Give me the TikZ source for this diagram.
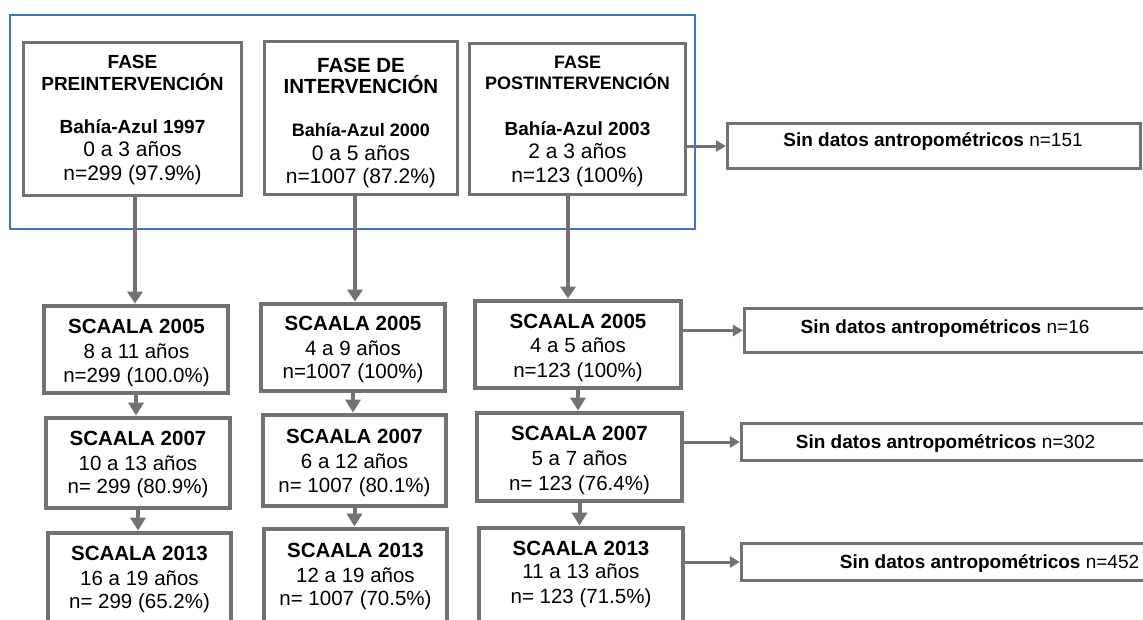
\documentclass[tikz,border=0pt]{standalone}
\usepackage{fontspec}
\setmainfont{Liberation Sans}
\usetikzlibrary{arrows.meta}
\definecolor{boxgray}{RGB}{118,113,113}
\definecolor{frameblue}{RGB}{68,114,196}
\begin{document}
\begin{tikzpicture}[x=1pt,y=-1pt,
  box/.style={draw=boxgray, line width=3.2pt, rectangle, inner sep=0pt},
  thickbox/.style={box, line width=4.8pt},
  tx/.style={anchor=base, inner sep=0pt, text=black},
  hb/.style={tx, font=\fontsize{19}{19}\selectfont\bfseries},
  hbb/.style={tx, font=\fontsize{20.5}{20.5}\selectfont\bfseries},
  hr/.style={tx, font=\fontsize{21}{21}\selectfont},
  sb/.style={tx, font=\fontsize{20.5}{20.5}\selectfont\bfseries},
  sr/.style={tx, font=\fontsize{20.5}{20.5}\selectfont},
  nb/.style={tx, font=\fontsize{19}{19}\selectfont},
  bigarrow/.style={draw=boxgray, line width=4.5pt, -{Triangle[width=15pt,length=12pt]}},
  midarrow/.style={draw=boxgray, line width=4pt, -{Triangle[width=15pt,length=13pt]}},
  sidearrow/.style={draw=boxgray, line width=3pt, -{Triangle[width=11pt,length=10pt]}}
]
\path[use as bounding box] (0,0) rectangle (1143,619);
\clip (0,0) rectangle (1143,619);
\fill[white] (0,0) rectangle (1143,619);

% blue frame
\node[draw=frameblue, line width=1.6pt, rectangle, inner sep=0pt,
      minimum width=685pt, minimum height=214pt] (frame) at (352.5,122) {};

% top boxes
\node[box, minimum width=218pt, minimum height=153pt] (t1) at (132.5,119) {};
\node[box, minimum width=193pt, minimum height=153pt] (t2) at (361,118) {};
\node[box, minimum width=216pt, minimum height=151pt] (t3) at (577.5,119) {};

\node[hb] (t1a) at (132.5,68) {FASE};
\node[hb] (t1b) at (132.5,90) {PREINTERVENCIÓN};
\node[hb] (t1c) at (132.5,133) {Bahía-Azul 1997};
\node[hr] (t1d) at (132.5,156.5) {0 a 3 años};
\node[hr] (t1e) at (132.5,180) {n=299 (97.9\%)};

\node[hbb] (t2a) at (361,72) {FASE DE};
\node[hbb] (t2b) at (361,93) {INTERVENCIÓN};
\node[tx, font=\fontsize{18}{18}\selectfont\bfseries] (t2c) at (361,136) {Bahía-Azul 2000};
\node[hr] (t2d) at (361,160) {0 a 5 años};
\node[hr] (t2e) at (361,183) {n=1007 (87.2\%)};

\node[tx, font=\fontsize{18}{18}\selectfont\bfseries] (t3a) at (577.5,68) {FASE};
\node[tx, font=\fontsize{18}{18}\selectfont\bfseries] (t3b) at (577.5,89) {POSTINTERVENCIÓN};
\node[hb] (t3c) at (577.5,135) {Bahía-Azul 2003};
\node[hr] (t3d) at (577.5,158) {2 a 3 años};
\node[hr] (t3e) at (577.5,182) {n=123 (100\%)};

% side boxes
\node[box, minimum width=413pt, minimum height=45pt] (s1) at (934,146) {};
\node[box, minimum width=414pt, minimum height=44pt] (s2) at (951.5,330.5) {};
\node[box, minimum width=417pt, minimum height=37pt] (s3) at (950,442) {};
\node[box, minimum width=507pt, minimum height=37pt] (s4) at (995,562) {};

\node[nb] (s1t) at (933,146) {\textbf{Sin datos antropométricos} n=151};
\node[nb] (s2t) at (945,333) {\textbf{Sin datos antropométricos} n=16};
\node[nb] (s3t) at (945.5,448) {\textbf{Sin datos antropométricos} n=302};
\node[nb] (s4t) at (989.5,568) {\textbf{Sin datos antropométricos} n=452};

% lower boxes, left column
\node[thickbox, minimum width=184pt, minimum height=87pt] (b1) at (136,349.5) {};
\node[thickbox, minimum width=184pt, minimum height=90pt] (b4) at (138,463) {};
\node[thickbox, minimum width=183pt, minimum height=110pt] (b7) at (139.5,588) {};
% middle column
\node[thickbox, minimum width=184pt, minimum height=87pt] (b2) at (353,347.5) {};
\node[thickbox, minimum width=183pt, minimum height=91pt] (b5) at (354.5,460.5) {};
\node[thickbox, minimum width=183pt, minimum height=110pt] (b8) at (355.5,584) {};
% right column
\node[thickbox, minimum width=206pt, minimum height=87pt] (b3) at (578,344.5) {};
\node[thickbox, minimum width=205pt, minimum height=88pt] (b6) at (579.5,457) {};
\node[thickbox, minimum width=204pt, minimum height=110pt] (b9) at (581,583) {};

\node[sb] (b1a) at (136.5,333) {SCAALA 2005};
\node[sr] (b1b) at (136.5,358) {8 a 11 años};
\node[sr] (b1c) at (136.5,382) {n=299 (100.0\%)};
\node[sb] (b4a) at (138,445) {SCAALA 2007};
\node[sr] (b4b) at (138,470) {10 a 13 años};
\node[sr] (b4c) at (138,493) {n= 299 (80.9\%)};
\node[sb] (b7a) at (139.5,560) {SCAALA 2013};
\node[sr] (b7b) at (139.5,585) {16 a 19 años};
\node[sr] (b7c) at (139.5,608) {n= 299 (65.2\%)};

\node[sb] (b2a) at (353,330) {SCAALA 2005};
\node[sr] (b2b) at (353,355) {4 a 9 años};
\node[sr] (b2c) at (353,378) {n=1007 (100\%)};
\node[sb] (b5a) at (354.5,443) {SCAALA 2007};
\node[sr] (b5b) at (354.5,468) {6 a 12 años};
\node[sr] (b5c) at (354.5,492) {n= 1007 (80.1\%)};
\node[sb] (b8a) at (355.5,557) {SCAALA 2013};
\node[sr] (b8b) at (355.5,582) {12 a 19 años};
\node[sr] (b8c) at (355.5,605) {n= 1007 (70.5\%)};

\node[sb] (b3a) at (578,328) {SCAALA 2005};
\node[sr] (b3b) at (578,352) {4 a 5 años};
\node[sr] (b3c) at (578,377) {n=123 (100\%)};
\node[sb] (b6a) at (579.5,440) {SCAALA 2007};
\node[sr] (b6b) at (579.5,465) {5 a 7 años};
\node[sr] (b6c) at (579.5,490) {n= 123 (76.4\%)};
\node[sb] (b9a) at (581,555) {SCAALA 2013};
\node[sr] (b9b) at (581,578) {11 a 13 años};
\node[sr] (b9c) at (581,603) {n= 123 (71.5\%)};

% arrows from top boxes
\draw[bigarrow] ([xshift=2.5pt]t1.south) -- ([xshift=2.5pt]t1.south |- b1.north);
\draw[bigarrow] ([xshift=-6pt]t2.south) -- ([xshift=-6pt]t2.south |- b2.north);
\draw[bigarrow] ([xshift=-9.5pt]t3.south) -- ([xshift=-9.5pt]t3.south |- b3.north);

% arrows between lower boxes
\draw[midarrow] (b1.south) -- (b1.south |- b4.north);
\draw[midarrow] (b4.south) -- (b4.south |- b7.north);
\draw[midarrow] (b2.south) -- (b2.south |- b5.north);
\draw[midarrow] (b5.south) -- (b5.south |- b8.north);
\draw[midarrow] (b3.south) -- (b3.south |- b6.north);
\draw[midarrow] (b6.south) -- (b6.south |- b9.north);

% side arrows
\draw[sidearrow] (t3.east |- s1.west) -- (s1.west);
\draw[sidearrow] (b3.east |- s2.west) -- (s2.west);
\draw[sidearrow] (b6.east |- s3.west) -- (s3.west);
\draw[sidearrow] (b9.east |- s4.west) -- (s4.west);
\end{tikzpicture}
\end{document}
